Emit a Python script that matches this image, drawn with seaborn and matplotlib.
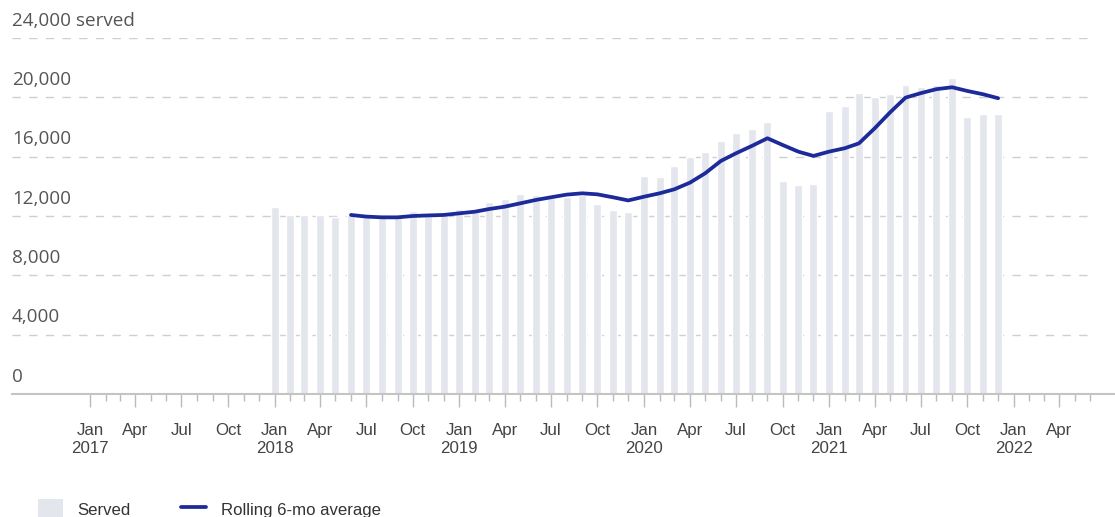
import matplotlib
matplotlib.use("Agg")
import matplotlib.dates as mdates
import matplotlib.pyplot as plt
from matplotlib.lines import Line2D
from matplotlib.patches import Patch
import numpy as np
import pandas as pd
import seaborn as sns

# monthly totals, Jan 2018 - Dec 2021
months = pd.date_range("2018-01-01", "2021-12-01", freq="MS")
served = [
    12630, 12070, 12070, 12050, 11960, 12070, 11950, 11950, 11950, 12360, 12070, 12180,
    12450, 12290, 12920, 13150, 13460, 13420, 13200, 13310, 13420, 12790, 12410, 12290,
    14700, 14610, 15370, 15960, 16340, 17060, 17580, 17850, 18340, 14390, 14090, 14140,
    19080, 19420, 20280, 20000, 20230, 20840, 20720, 20840, 21290, 18700, 18880, 18880,
]
# rolling average starts Jun 2018
rolling_months = pd.date_range("2018-06-01", "2021-12-01", freq="MS")
rolling = [
    12070, 11960, 11910, 11910, 12000, 12040, 12070,
    12180, 12290, 12470, 12630, 12850, 13080, 13260, 13440, 13530, 13460, 13260, 13050,
    13300, 13530, 13800, 14250, 14880, 15710, 16230, 16720, 17240, 16790, 16340, 16050,
    16340, 16570, 16900, 17910, 18970, 19980, 20280, 20550, 20680, 20430, 20210, 19940,
]
y_ticks = [0, 4000, 8000, 12000, 16000, 20000, 24000]
y_labels = ["0", "4,000", "8,000", "12,000", "16,000", "20,000", "24,000 served"]
tick_months = pd.date_range("2017-01-01", "2022-06-01", freq="MS")

BAR = "#e3e6ec"
LINE = "#1c2a9a"
W, H = 1115, 517

bars = pd.DataFrame({"x": mdates.date2num(months), "served": served})
line = pd.DataFrame({"x": mdates.date2num(rolling_months), "avg": rolling})

sns.set_theme(style="white")
plt.rcParams["font.family"] = ["Liberation Sans", "DejaVu Sans"]

fig = plt.figure(figsize=(W / 100, H / 100), dpi=100)
ax = fig.add_axes([12 / W, (H - 394) / H, (W - 12) / W, (394 - 38) / H])

sns.barplot(data=bars, x="x", y="served", native_scale=True, width=0.56,
            color=BAR, saturation=1, ax=ax, zorder=2)
sns.lineplot(data=line, x="x", y="avg", color=LINE, linewidth=2.7, ax=ax, zorder=3)

ax.set_ylim(0, 24000)
left = mdates.date2num(pd.Timestamp("2017-01-01")) - 154
right = mdates.date2num(pd.Timestamp("2022-01-01")) + 200
ax.set_xlim(left, right)

# dashed gridlines stop a little short of the right edge
for v in y_ticks[1:]:
    ax.axhline(v, xmax=(1090 - 12) / (W - 12), color="#cfcfcf", linewidth=1,
               linestyle=(0, (6, 6)), zorder=1)
ax.set_yticks([])
for v, lab in zip(y_ticks, y_labels):
    ax.annotate(lab, (0, v), xycoords=ax.get_yaxis_transform(), xytext=(0, 6),
                textcoords="offset points", ha="left", va="bottom",
                fontsize=13.6, color="#555555", family=["Open Sans", "DejaVu Sans"])

tick_nums = mdates.date2num(tick_months)
quarter = [d.month in (1, 4, 7, 10) and d < pd.Timestamp("2022-05-01") for d in tick_months]
major = [n for n, q in zip(tick_nums, quarter) if q]
major_lbl = [d.strftime("%b\n%Y") if d.month == 1 else d.strftime("%b")
             for d, q in zip(tick_months, quarter) if q]
ax.set_xticks(major, major_lbl)
ax.set_xticks([n for n, q in zip(tick_nums, quarter) if not q], minor=True)
ax.tick_params(axis="x", which="major", length=9, width=1, color="#bbbbbb",
               labelsize=12.2, labelcolor="#444444", pad=12, bottom=True)
ax.tick_params(axis="x", which="minor", length=5, width=1, color="#bbbbbb", bottom=True)
ax.set_xlabel("")
ax.set_ylabel("")

for side in ["top", "right", "left"]:
    ax.spines[side].set_visible(False)
ax.spines["bottom"].set_color("#c4c4c4")
ax.spines["bottom"].set_linewidth(1.5)

handles = [Patch(facecolor=BAR, edgecolor="none"),
           Line2D([0], [0], color=LINE, linewidth=2.7)]
fig.legend(handles, ["Served", "Rolling 6-mo average"], loc="center left",
           bbox_to_anchor=(38 / W, 8 / H), ncol=2, frameon=False, fontsize=12.1,
           handlelength=1.5, handleheight=1.5, handletextpad=0.85, columnspacing=3.0,
           borderpad=0, borderaxespad=0, labelcolor="#333333")

fig.savefig("out.png", dpi=100)
